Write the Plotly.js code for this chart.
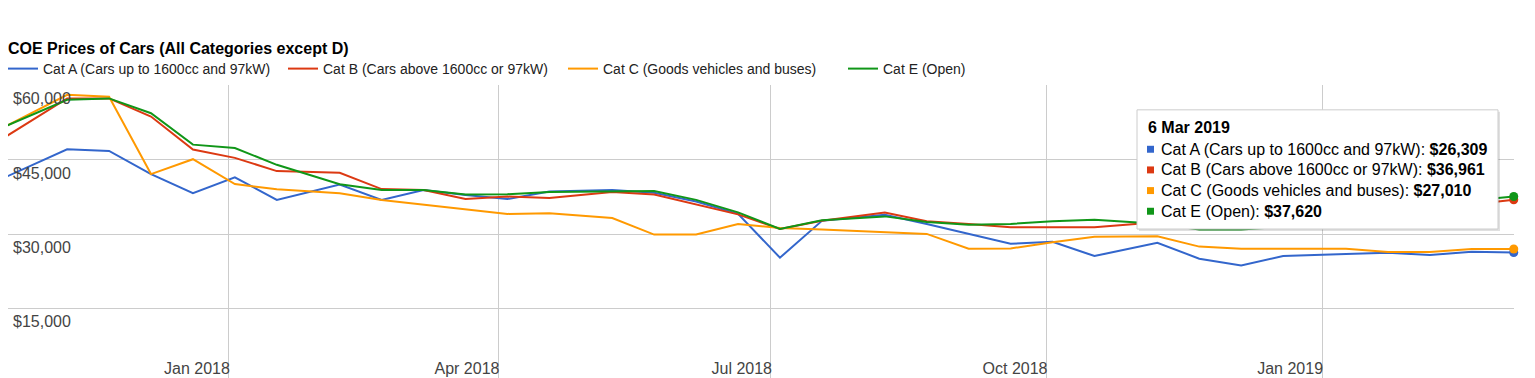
<!DOCTYPE html>
<html><head><meta charset="utf-8">
<script src="https://cdn.plot.ly/plotly-3.0.1.min.js"></script>
<style>html,body{margin:0;padding:0;overflow:hidden;background:#fff}#chart{width:1535px;height:378px}</style>
</head><body><div id="chart"></div>
<script>
// ---- data ----
const dates = ['2017-10-18','2017-11-08','2017-11-22','2017-12-06','2017-12-20','2018-01-03','2018-01-17','2018-02-07','2018-02-21','2018-03-07','2018-03-21','2018-04-04','2018-04-18','2018-05-09','2018-05-23','2018-06-06','2018-06-20','2018-07-04','2018-07-18','2018-08-08','2018-08-22','2018-09-05','2018-09-19','2018-10-03','2018-10-17','2018-11-07','2018-11-21','2018-12-05','2018-12-19','2019-01-09','2019-01-23','2019-02-06','2019-02-20','2019-03-06'];
const catA = [41400,47140,46800,42130,38270,41470,36930,40000,36930,38930,37930,37100,38600,38930,38370,36600,34100,25270,32700,33930,32070,30130,28070,28470,25600,28270,25070,23700,25600,26000,26270,25800,26470,26309];
const catB = [49500,57400,57400,53730,47070,45400,42730,42400,39100,38930,37100,37600,37300,38500,38000,36070,34000,31070,32730,34400,32600,32070,31400,31400,31400,32400,31600,31500,31700,32000,32600,34000,36000,36961];
const catC = [51630,58130,57730,42130,45130,40130,39070,38270,36900,36000,35100,34100,34250,33270,29930,29930,32070,31270,30930,30470,30070,27070,27130,28400,29470,29600,27500,27070,27070,27070,26430,26430,27000,27010];
const catE = [51700,57130,57400,54400,48070,47400,44000,40070,38900,38930,38000,38070,38500,38650,38730,36930,34400,31070,32800,33600,32470,31930,32070,32600,32930,32100,30950,30950,31500,32100,32900,34500,36800,37620];
const seriesNames = ['Cat A (Cars up to 1600cc and 97kW)','Cat B (Cars above 1600cc or 97kW)','Cat C (Goods vehicles and buses)','Cat E (Open)'];
const xTickVals = ['2018-01-01','2018-04-01','2018-07-01','2018-10-01','2019-01-01'];
const xTickText = ['Jan 2018','Apr 2018','Jul 2018','Oct 2018','Jan 2019'];
const yTickVals = [15000,30000,45000,60000];
const yTickText = ['$15,000','$30,000','$45,000','$60,000'];
const titleText = 'COE Prices of Cars (All Categories except D)';

// ---- style / geometry ----
const colors = ['#3366cc','#dc3912','#ff9900','#109618'];
const W = 1535, H = 378;
const M = {l: 8, r: 21, t: 83, b: 0};
const FONT = 'Arial, "Liberation Sans", sans-serif';
const px2x = p => (p - M.l) / (W - M.l - M.r);
const px2y = p => 1 - (p - M.t) / (H - M.t - M.b);

const series = [catA, catB, catC, catE];
const traces = series.map((vals, i) => ({
  type: 'scatter', mode: 'lines', x: dates, y: vals, name: seriesNames[i],
  line: {color: colors[i], width: 2}, hoverinfo: 'skip'
}));
// hover dots at the last point
series.forEach((vals, i) => traces.push({
  type: 'scatter', mode: 'markers', x: [dates[dates.length - 1]], y: [vals[vals.length - 1]],
  marker: {color: colors[i], size: 9}, showlegend: false, hoverinfo: 'skip', cliponaxis: false
}));

// tooltip
const months = ['Jan','Feb','Mar','Apr','May','Jun','Jul','Aug','Sep','Oct','Nov','Dec'];
const last = dates[dates.length - 1].split('-');
const tipHeader = (+last[2]) + ' ' + months[+last[1] - 1] + ' ' + last[0];
const fmt = v => '$' + v.toLocaleString('en-US');
const box = {x0: 1137, x1: 1498, y0: 108, y1: 228};
const shapes = [
  {type: 'rect', xref: 'paper', yref: 'paper', layer: 'above', x0: px2x(box.x0 + 2), x1: px2x(box.x1 + 2), y0: px2y(box.y0 + 2), y1: px2y(box.y1 + 2), fillcolor: 'rgba(0,0,0,0.12)', line: {width: 0}},
  {type: 'rect', xref: 'paper', yref: 'paper', layer: 'above', x0: px2x(box.x0), x1: px2x(box.x1), y0: px2y(box.y0), y1: px2y(box.y1), fillcolor: '#ffffff', line: {color: '#cccccc', width: 1}}
];
const annotations = [{
  xref: 'paper', yref: 'paper', x: px2x(1146), y: px2y(126), xanchor: 'left', yanchor: 'middle',
  text: '<b>' + tipHeader + '</b>', showarrow: false, font: {family: FONT, size: 16, color: '#000'}
}];
series.forEach((vals, i) => {
  const cy = 147.7 + 20.8 * i;
  shapes.push({type: 'rect', xref: 'paper', yref: 'paper', layer: 'above', x0: px2x(1147), x1: px2x(1154), y0: px2y(cy - 3.5), y1: px2y(cy + 3.5), fillcolor: colors[i], line: {width: 0}});
  annotations.push({
    xref: 'paper', yref: 'paper', x: px2x(1159), y: px2y(cy), xanchor: 'left', yanchor: 'middle',
    text: seriesNames[i] + ': <b>' + fmt(vals[vals.length - 1]) + '</b>', showarrow: false,
    font: {family: FONT, size: 16, color: '#000'}
  });
});

const layout = {
  width: W, height: H, margin: M, paper_bgcolor: '#fff', plot_bgcolor: '#fff',
  font: {family: FONT, color: '#444'},
  hovermode: false,
  title: {text: titleText, xref: 'container', yref: 'container', x: 8 / W, xanchor: 'left', y: 1 - 48.5 / H, yanchor: 'middle',
          font: {family: FONT, size: 16, weight: 'bold', color: '#000'}},
  showlegend: true,
  legend: {orientation: 'h', xref: 'container', yref: 'container', x: 3 / W, xanchor: 'left', y: 1 - 69 / H, yanchor: 'middle',
           font: {family: FONT, size: 14, color: '#222'}, entrywidth: 235, entrywidthmode: 'pixels', bgcolor: 'rgba(0,0,0,0)'},
  xaxis: {type: 'date', range: ['2017-10-19 06:00', '2019-03-06 02:00'], tickvals: xTickVals, ticktext: xTickText,
          ticklabelposition: 'inside left', ticklabelstandoff: -5, ticklabelshift: 1, ticks: '', showgrid: true, gridcolor: '#cccccc', gridwidth: 1,
          zeroline: false, showline: false, tickfont: {family: FONT, size: 16, color: '#444'}, fixedrange: true},
  yaxis: {range: [1000, 60100], tickvals: yTickVals, ticktext: yTickText, ticklabelposition: 'inside bottom', ticklabelstandoff: 2, ticklabelshift: 2, ticks: '',
          showgrid: true, gridcolor: '#cccccc', gridwidth: 1, zeroline: false, showline: false,
          tickfont: {family: FONT, size: 16, color: '#444'}, fixedrange: true},
  shapes: shapes, annotations: annotations
};
Plotly.newPlot('chart', traces, layout, {displayModeBar: false, staticPlot: true});
</script>
</body></html>
